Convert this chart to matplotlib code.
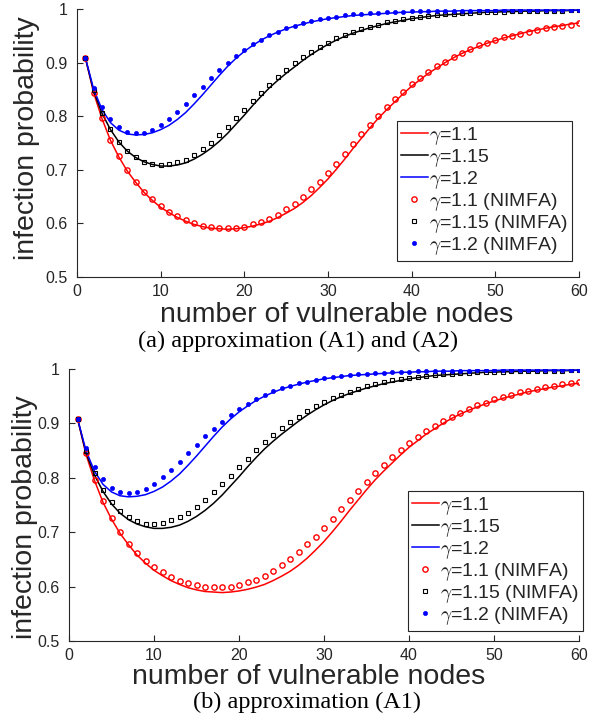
import matplotlib
matplotlib.use("Agg")
import matplotlib.pyplot as plt
import numpy as np

plt.rcParams['font.family'] = ['Liberation Sans', 'DejaVu Sans']
plt.rcParams['mathtext.fontset'] = 'cm'

nodes = list(range(1, 61))

# model curves (same in both panels)
line_g110 = [0.909, 0.843, 0.795, 0.755, 0.724, 0.698, 0.677, 0.658, 0.643, 0.630,
             0.620, 0.611, 0.604, 0.598, 0.594, 0.591, 0.590, 0.589, 0.590, 0.592,
             0.595, 0.599, 0.604, 0.611, 0.619, 0.628, 0.639, 0.652, 0.667, 0.683,
             0.701, 0.720, 0.740, 0.759, 0.778, 0.796, 0.812, 0.827, 0.842, 0.856,
             0.868, 0.880, 0.890, 0.900, 0.909, 0.917, 0.924, 0.930, 0.936, 0.941,
             0.946, 0.950, 0.954, 0.958, 0.961, 0.964, 0.967, 0.969, 0.972, 0.974]
line_g115 = [0.909, 0.846, 0.805, 0.775, 0.752, 0.735, 0.723, 0.715, 0.710, 0.707,
             0.707, 0.709, 0.713, 0.720, 0.729, 0.740, 0.753, 0.768, 0.785, 0.802,
             0.820, 0.837, 0.853, 0.867, 0.880, 0.892, 0.904, 0.915, 0.925, 0.934,
             0.942, 0.949, 0.955, 0.960, 0.965, 0.969, 0.973, 0.976, 0.979, 0.982,
             0.984, 0.986, 0.988, 0.989, 0.990, 0.991, 0.992, 0.993, 0.994, 0.994,
             0.995, 0.995, 0.996, 0.996, 0.996, 0.997, 0.997, 0.997, 0.997, 0.998]
line_g120 = [0.909, 0.850, 0.812, 0.788, 0.774, 0.767, 0.765, 0.766, 0.769, 0.775,
             0.783, 0.794, 0.807, 0.823, 0.840, 0.858, 0.876, 0.893, 0.908, 0.921,
             0.932, 0.942, 0.950, 0.957, 0.963, 0.968, 0.972, 0.976, 0.979, 0.982,
             0.984, 0.986, 0.988, 0.989, 0.990, 0.991, 0.992, 0.993, 0.994, 0.994,
             0.995, 0.995, 0.996, 0.996, 0.996, 0.997, 0.997, 0.997, 0.997, 0.997,
             0.998, 0.998, 0.998, 0.998, 0.998, 0.998, 0.998, 0.998, 0.998, 0.998]

# NIMFA, panel (a)
nimfa_a_g110 = [0.909, 0.843, 0.796, 0.755, 0.725, 0.699, 0.678, 0.659, 0.645, 0.632,
                0.622, 0.614, 0.606, 0.600, 0.596, 0.593, 0.591, 0.591, 0.592, 0.594,
                0.598, 0.603, 0.609, 0.616, 0.626, 0.637, 0.649, 0.664, 0.678, 0.694,
                0.711, 0.730, 0.748, 0.767, 0.784, 0.801, 0.817, 0.832, 0.846, 0.860,
                0.871, 0.882, 0.893, 0.901, 0.910, 0.918, 0.925, 0.932, 0.937, 0.942,
                0.947, 0.950, 0.954, 0.958, 0.961, 0.964, 0.966, 0.969, 0.971, 0.974]
nimfa_a_g115 = [0.909, 0.848, 0.806, 0.776, 0.752, 0.735, 0.724, 0.715, 0.711, 0.709,
                0.710, 0.714, 0.719, 0.728, 0.739, 0.750, 0.765, 0.780, 0.796, 0.812,
                0.829, 0.844, 0.859, 0.873, 0.886, 0.899, 0.911, 0.920, 0.929, 0.937,
                0.945, 0.952, 0.957, 0.962, 0.967, 0.971, 0.975, 0.978, 0.981, 0.983,
                0.985, 0.987, 0.989, 0.990, 0.991, 0.992, 0.993, 0.994, 0.994, 0.995,
                0.995, 0.996, 0.996, 0.996, 0.997, 0.997, 0.997, 0.997, 0.998, 0.998]
nimfa_a_g120 = [0.909, 0.853, 0.817, 0.794, 0.779, 0.771, 0.768, 0.769, 0.774, 0.783,
                0.794, 0.808, 0.822, 0.839, 0.855, 0.871, 0.886, 0.900, 0.913, 0.924,
                0.935, 0.943, 0.952, 0.958, 0.964, 0.969, 0.974, 0.978, 0.981, 0.984,
                0.986, 0.988, 0.990, 0.991, 0.992, 0.993, 0.994, 0.995, 0.995, 0.996,
                0.996, 0.996, 0.997, 0.997, 0.997, 0.997, 0.997, 0.998, 0.998, 0.998,
                0.998, 0.998, 0.998, 0.998, 0.998, 0.998, 0.998, 0.998, 0.998, 0.998]

# NIMFA, panel (b)
nimfa_b_g110 = [0.909, 0.845, 0.796, 0.757, 0.726, 0.701, 0.679, 0.662, 0.647, 0.636,
                0.626, 0.617, 0.611, 0.606, 0.603, 0.600, 0.599, 0.599, 0.600, 0.603,
                0.608, 0.613, 0.620, 0.629, 0.639, 0.650, 0.663, 0.678, 0.692, 0.708,
                0.725, 0.742, 0.759, 0.776, 0.793, 0.809, 0.824, 0.838, 0.851, 0.864,
                0.875, 0.886, 0.895, 0.904, 0.912, 0.919, 0.927, 0.933, 0.938, 0.944,
                0.949, 0.952, 0.957, 0.960, 0.963, 0.966, 0.969, 0.972, 0.974, 0.976]
nimfa_b_g115 = [0.909, 0.849, 0.808, 0.777, 0.755, 0.739, 0.728, 0.720, 0.715, 0.715,
                0.717, 0.722, 0.728, 0.736, 0.747, 0.759, 0.774, 0.788, 0.804, 0.820,
                0.835, 0.851, 0.865, 0.878, 0.891, 0.902, 0.912, 0.922, 0.932, 0.939,
                0.947, 0.953, 0.958, 0.963, 0.968, 0.972, 0.976, 0.979, 0.982, 0.984,
                0.986, 0.988, 0.989, 0.990, 0.991, 0.992, 0.993, 0.994, 0.994, 0.995,
                0.995, 0.996, 0.996, 0.996, 0.997, 0.997, 0.997, 0.997, 0.998, 0.998]
nimfa_b_g120 = [0.909, 0.854, 0.819, 0.797, 0.782, 0.774, 0.772, 0.774, 0.780, 0.789,
                0.801, 0.815, 0.829, 0.845, 0.860, 0.876, 0.890, 0.903, 0.916, 0.927,
                0.936, 0.945, 0.952, 0.959, 0.965, 0.969, 0.974, 0.977, 0.980, 0.983,
                0.985, 0.987, 0.989, 0.990, 0.991, 0.992, 0.993, 0.994, 0.995, 0.995,
                0.996, 0.996, 0.996, 0.997, 0.997, 0.997, 0.997, 0.998, 0.998, 0.998,
                0.998, 0.998, 0.998, 0.998, 0.999, 0.999, 0.999, 0.999, 0.999, 0.999]

labels = [r'$\gamma$=1.1', r'$\gamma$=1.15', r'$\gamma$=1.2',
          r'$\gamma$=1.1 (NIMFA)', r'$\gamma$=1.15 (NIMFA)', r'$\gamma$=1.2 (NIMFA)']
x_ticks = [0, 10, 20, 30, 40, 50, 60]
y_ticks = [0.5, 0.6, 0.7, 0.8, 0.9, 1.0]
y_ticklabels = ['0.5', '0.6', '0.7', '0.8', '0.9', '1']
captions = ['(a) approximation (A1) and (A2)', '(b) approximation (A1)']

W, H = 596, 722
fig = plt.figure(figsize=(W / 100, H / 100), dpi=100)
AX = '#262626'


def px_axes(l, t, r, b):
    return [l / W, 1 - b / H, (r - l) / W, (b - t) / H]


panels = [
    dict(rect=px_axes(77, 9, 579, 277), nimfa=(nimfa_a_g110, nimfa_a_g115, nimfa_a_g120),
         leg=(572 / W, 1 - 121 / H), ylab=(-0.074, 0.52), xlab=(0.517, -0.092),
         cap=(298 / W, 1 - 347 / H)),
    dict(rect=px_axes(69, 369, 579, 641), nimfa=(nimfa_b_g110, nimfa_b_g115, nimfa_b_g120),
         leg=(583 / W, 1 - 491 / H), ylab=(-0.061, 0.455), xlab=(0.47, -0.084),
         cap=(307 / W, 1 - 708 / H)),
]

for p, cap in zip(panels, captions):
    ax = fig.add_axes(p['rect'])
    h1, = ax.plot(nodes, line_g110, '-', color='#ff0000', lw=1.1)
    h2, = ax.plot(nodes, line_g115, '-', color='#000000', lw=1.1)
    h3, = ax.plot(nodes, line_g120, '-', color='#0000ff', lw=1.1)
    n1, n2, n3 = p['nimfa']
    m1, = ax.plot(nodes, n1, 'o', ls='none', mfc='none', mec='#ff0000', ms=3.8, mew=1.0)
    m2, = ax.plot(nodes, n2, 's', ls='none', mfc='none', mec='#000000', ms=3.0, mew=0.8)
    m3, = ax.plot(nodes, n3, 'o', ls='none', mfc='#0000ff', mec='#0000ff', ms=3.0, mew=0.5)
    ax.set_xlim(0, 60)
    ax.set_ylim(0.5, 1.0)
    ax.set_xticks(x_ticks)
    ax.set_yticks(y_ticks)
    ax.set_yticklabels(y_ticklabels)
    for s in ['top', 'right']:
        ax.spines[s].set_visible(False)
    for s in ['left', 'bottom']:
        ax.spines[s].set_color(AX)
        ax.spines[s].set_linewidth(0.8)
    ax.tick_params(direction='in', length=4, width=0.8, colors=AX, labelsize=11.5,
                   pad=5)
    ax.tick_params(axis='y', pad=7)
    ax.set_ylabel('infection probability', fontsize=20.5, color=AX)
    ax.yaxis.set_label_coords(*p['ylab'])
    ax.set_xlabel('number of vulnerable nodes', fontsize=20.5, color=AX)
    ax.xaxis.set_label_coords(*p['xlab'])
    leg = ax.legend([h1, h2, h3, m1, m2, m3], labels, loc='upper right',
                    bbox_to_anchor=p['leg'], bbox_transform=fig.transFigure,
                    borderaxespad=0, fontsize=14, handlelength=1.4,
                    handletextpad=0.05, labelspacing=0.0, borderpad=0.2,
                    fancybox=False, framealpha=1, edgecolor=AX)
    leg.get_frame().set_linewidth(0.8)
    for t in leg.get_texts():
        t.set_color(AX)
    fig.text(p['cap'][0], p['cap'][1], cap, ha='center', va='baseline',
             fontsize=17.5, family='Liberation Serif')

fig.savefig('out.png', dpi=100)
